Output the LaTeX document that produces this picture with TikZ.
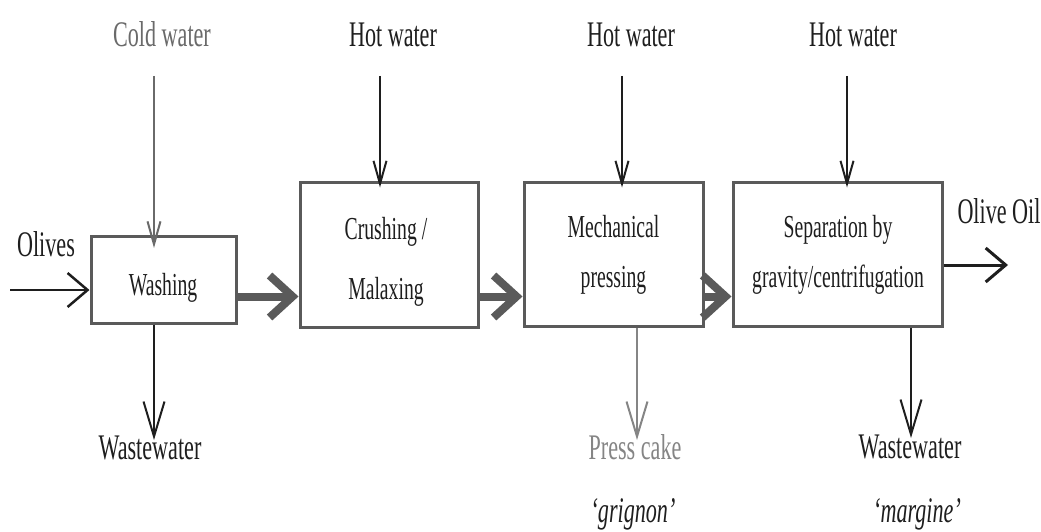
\documentclass[tikz,border=0pt]{standalone}
\usepackage{fontspec}
\setmainfont{Liberation Serif}[FakeStretch=0.615]
\usetikzlibrary{arrows.meta}
\definecolor{boxgray}{HTML}{5A5A5A}
\definecolor{coldgray}{HTML}{6A6A6A}
\definecolor{cakegray}{HTML}{858585}
\definecolor{ink}{HTML}{1E1E1E}
\begin{document}
\begin{tikzpicture}[x=1pt,y=-1pt,
  lbl/.style={inner sep=0pt, anchor=base, font=\fontsize{36}{42}\selectfont, text=ink},
  boxtxt/.style={inner sep=0pt, anchor=base, font=\fontsize{32}{38}\selectfont, text=ink},
  proc/.style={draw=boxgray, line width=3pt, rectangle, inner sep=0pt},
  flow/.style={draw=boxgray, line width=8pt, -{Straight Barb[length=23pt,width=42pt]}},
  feed/.style={draw=ink, line width=2pt, -{Straight Barb[length=23pt,width=13pt]}},
  drain/.style={draw=ink, line width=2pt, -{Straight Barb[length=35pt,width=21pt]}},
  side/.style={draw=ink, line width=2.5pt, -{Straight Barb[length=20pt,width=34pt]}}
]
\useasboundingbox (0,0) rectangle (1041,532);

% process boxes
\node[proc, minimum width=145pt, minimum height=87pt] (wash) at (163.5,279.5) {};
\node[proc, minimum width=178pt, minimum height=145pt] (crush) at (389,254.5) {};
\node[proc, minimum width=179pt, minimum height=144pt] (press) at (613.5,254) {};
\node[proc, minimum width=209pt, minimum height=144pt] (sep) at (837.5,254) {};

% box texts
\node[boxtxt] (tWash) at (163,295) {Washing};
\node[boxtxt] (tCrush1) at (386,239) {Crushing /};
\node[boxtxt] (tCrush2) at (386,299) {Malaxing};
\node[boxtxt] (tPress1) at (613.5,237) {Mechanical};
\node[boxtxt] (tPress2) at (613.5,287) {pressing};
\node[boxtxt] (tSep1) at (838,237) {Separation by};
\node[boxtxt] (tSep2) at (838,287) {gravity/centrifugation};

% top labels
\node[lbl, text=coldgray] (cold) at (162,47) {Cold water};
\node[lbl] (hot1) at (393,47) {Hot water};
\node[lbl] (hot2) at (631,47) {Hot water};
\node[lbl] (hot3) at (853,47) {Hot water};

% side labels
\node[lbl] (olives) at (46,256) {Olives};
\node[lbl] (oil) at (999,223) {Olive Oil};

% bottom labels
\node[lbl] (ww1) at (150,459) {Wastewater};
\node[lbl, text=cakegray] (cake) at (635,459) {Press cake};
\node[lbl] (ww2) at (910,458) {Wastewater};
\node[lbl, font=\fontsize{36}{42}\selectfont\itshape] (grig) at (633,522) {`grignon'};
\node[lbl, font=\fontsize{36}{42}\selectfont\itshape] (marg) at (917,522) {`margine'};

% helper coordinates
\coordinate (cwTop) at (154,76);
\coordinate (cwEnd) at (154,248);
\coordinate (hw1Top) at (380,76);
\coordinate (hw2Top) at (622,76);
\coordinate (hw3Top) at (847,76);
\coordinate (ww1End) at (154,440);
\coordinate (cakeEnd) at (637,440);
\coordinate (ww2End) at (911,438);
\coordinate (olStart) at (10,290);
\coordinate (oilEnd) at (1008,265);
\coordinate (mainY) at (0,296.5);

% main thick flow
\draw[flow] (wash.east |- mainY) -- (crush.west |- mainY);
\draw[flow] (crush.east |- mainY) -- (press.west |- mainY);
\draw[flow] (press.east |- mainY) -- (sep.west |- mainY);

% inputs
\draw[feed, draw=coldgray] (cwTop) -- (cwEnd);
\draw[feed] (hw1Top) -- ([yshift=-7pt]hw1Top |- crush.north);
\draw[feed] (hw2Top) -- ([yshift=-7pt]hw2Top |- press.north);
\draw[feed] (hw3Top) -- ([yshift=-7pt]hw3Top |- sep.north);
\draw[side] (olStart) -- (olStart -| wash.west);
\draw[side, line width=3pt] (sep.east |- oilEnd) -- (oilEnd);

% outputs
\draw[drain] (ww1End |- wash.south) -- (ww1End);
\draw[drain, draw=cakegray] (cakeEnd |- press.south) -- (cakeEnd);
\draw[drain] (ww2End |- sep.south) -- (ww2End);
\end{tikzpicture}
\end{document}
